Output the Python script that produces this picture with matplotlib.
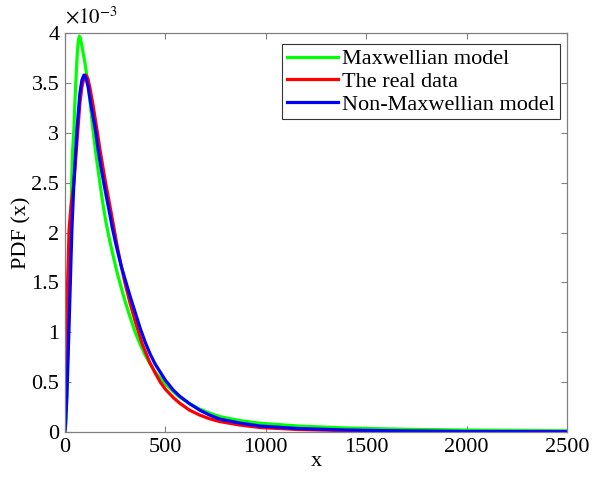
import matplotlib
matplotlib.use("Agg")
import matplotlib.pyplot as plt
import numpy as np

plt.rcParams['font.family'] = ['Liberation Serif', 'DejaVu Serif']
plt.rcParams['mathtext.fontset'] = 'stix'

# values (PDF in units of 1e-3)
x_max = [0, 5, 10, 15, 20, 28, 38, 45, 50, 55, 62, 67, 72, 77, 85, 100, 115, 127, 140, 155, 170, 187, 205, 222, 240, 260, 280,
         300, 325, 350, 375, 400, 425, 450, 500, 571, 620, 671, 720, 770, 870, 971, 1160, 1400, 1700, 2000, 2500]
y_max = [0, 0.1, 0.4, 0.8, 1.2, 2.03, 2.8, 3.03, 3.3, 3.53, 3.8, 3.92, 3.97, 3.95, 3.87, 3.7, 3.5, 3.28, 3.03, 2.78, 2.56, 2.32, 2.1, 1.93, 1.77, 1.6, 1.45,
         1.31, 1.15, 1.0, 0.88, 0.77, 0.68, 0.6, 0.48, 0.35, 0.285, 0.23, 0.19, 0.155, 0.115, 0.088, 0.06, 0.04, 0.027, 0.019, 0.012]

x_real = [0, 5, 10, 15, 21, 30, 45, 60, 75, 85, 95, 105, 115, 125, 140, 160, 175, 190, 200, 212, 225, 243, 260, 280, 300,
          325, 350, 386, 422, 450, 475, 500, 540, 571, 620, 671, 720, 770, 870, 971, 1160, 1400, 1700, 2000, 2500]
y_real = [0.58, 0.8, 1.2, 1.6, 2.03, 2.25, 2.5, 2.9, 3.3, 3.46, 3.55, 3.58, 3.54, 3.45, 3.28, 3.03, 2.83, 2.65, 2.53, 2.4, 2.26, 2.06, 1.87, 1.67, 1.49,
          1.29, 1.11, 0.88, 0.7, 0.59, 0.5, 0.43, 0.345, 0.29, 0.22, 0.17, 0.133, 0.105, 0.07, 0.045, 0.025, 0.013, 0.007, 0.004, 0.002]

x_nonmax = [0, 3, 10, 20, 35, 45, 60, 75, 85, 95, 105, 115, 130, 152, 165, 180, 200, 225, 235, 250, 264, 280, 300,
            325, 350, 375, 400, 425, 450, 500, 540, 571, 620, 671, 720, 770, 870, 971, 1160, 1400, 1700, 2000, 2500]
y_nonmax = [0, 0.05, 0.35, 1.0, 2.03, 2.5, 3.03, 3.4, 3.53, 3.58, 3.55, 3.47, 3.28, 3.03, 2.84, 2.65, 2.43, 2.17, 2.06, 1.92, 1.8, 1.67, 1.53,
            1.36, 1.2, 1.04, 0.9, 0.78, 0.68, 0.52, 0.42, 0.36, 0.285, 0.22, 0.17, 0.13, 0.09, 0.06, 0.035, 0.02, 0.01, 0.005, 0.003]

labels = ["Maxwellian model", "The real data", "Non-Maxwellian model"]
colors = ["#00FF00", "#FF0000", "#0000FF"]
x_ticks = [0, 500, 1000, 1500, 2000, 2500]
y_ticks = [0, 0.5, 1, 1.5, 2, 2.5, 3, 3.5, 4]

fig = plt.figure(figsize=(5.95, 4.8), dpi=100)
ax = fig.add_axes([0.109, 0.1, 0.844, 0.831])

for xs, ys, c, lab in zip([x_max, x_real, x_nonmax], [y_max, y_real, y_nonmax], colors, labels):
    ax.plot(xs, ys, color=c, lw=2.3, label=lab, solid_joinstyle='round')

ax.set_xlim(0, 2500)
ax.set_ylim(0, 4)
ax.set_xticks(x_ticks)
ax.set_yticks(y_ticks)
ax.set_xticklabels([f"{v:g}" for v in x_ticks])
ax.set_yticklabels([f"{v:g}" for v in y_ticks])
ax.tick_params(direction='in', top=True, right=True, labelsize=16, length=4, width=0.8,
               color='#808080', pad=4)
for s in ax.spines.values():
    s.set_color('#808080')
    s.set_linewidth(0.9)

ax.set_xlabel("x", fontsize=16, labelpad=-3)
ax.set_ylabel("PDF (x)", fontsize=16, labelpad=0)
ax.text(0.0, 1.012, r"$\times10^{-3}$", transform=ax.transAxes, fontsize=15, ha='left', va='bottom')

leg = ax.legend(loc='upper right', bbox_to_anchor=(0.985, 0.972), fontsize=16, frameon=True, fancybox=False,
                handlelength=2.3, handletextpad=0.2, borderpad=0.2, labelspacing=0.1, borderaxespad=0)
leg.get_frame().set_edgecolor('black')
leg.get_frame().set_linewidth(0.8)

fig.savefig("out.png", dpi=100)
